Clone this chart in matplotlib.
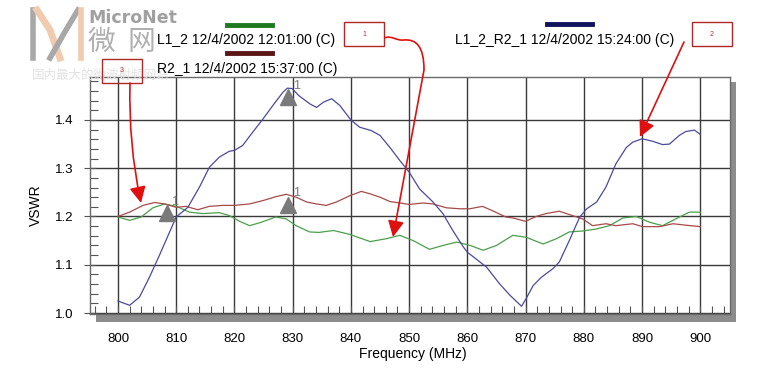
import matplotlib
matplotlib.use("Agg")
import matplotlib.pyplot as plt
from matplotlib.patches import Rectangle, FancyArrowPatch, PathPatch
from matplotlib.path import Path
from matplotlib.lines import Line2D
from matplotlib.ticker import MultipleLocator

plt.rcParams["font.family"] = ["Liberation Sans", "DejaVu Sans"]

# ---- data ----
blue_freq = [800, 802, 803.7, 805.4, 807.1, 810, 812, 814, 815.7, 817.4, 819.1, 820, 821.4,
             823.1, 824.9, 826.6, 828.3, 829.1, 829.9, 831.1, 833, 834.1, 835.3, 836.7, 838.1,
             840, 841.5, 843.5, 845, 846.7, 848.4, 850, 851.8, 854.1, 855.8, 857.5, 859.3, 860,
             861.5, 863.3, 865.5, 867.3, 869.3, 870.1, 871.3, 872.7, 874.7, 875.8, 877.5, 879.3,
             880.5, 882.2, 883.8, 885.5, 887.3, 888.4, 890, 891.8, 893.5, 894.7, 896.4, 897.5,
             899, 900]
blue_vswr = [1.025, 1.016, 1.033, 1.074, 1.119, 1.199, 1.219, 1.261, 1.302, 1.323, 1.335, 1.337,
             1.347, 1.374, 1.402, 1.430, 1.457, 1.466, 1.465, 1.450, 1.433, 1.426, 1.437, 1.444,
             1.430, 1.400, 1.385, 1.378, 1.368, 1.343, 1.316, 1.292, 1.257, 1.230, 1.206, 1.171,
             1.137, 1.126, 1.112, 1.095, 1.061, 1.037, 1.014, 1.030, 1.057, 1.074, 1.092, 1.106,
             1.150, 1.199, 1.216, 1.230, 1.261, 1.309, 1.343, 1.354, 1.361, 1.356, 1.349, 1.350,
             1.368, 1.376, 1.379, 1.370]

red_freq = [800, 802, 804.3, 806.3, 808, 810, 811.7, 813.7, 815.7, 818, 820, 822.6, 824.9, 827.1,
            828.9, 830.6, 832.4, 834.1, 835.8, 837.5, 839.8, 841.8, 843.3, 845, 846.7, 848.4,
            850, 852.4, 854.1, 856.4, 858.7, 860.4, 862.6, 864.3, 866.6, 867.8, 870, 871.8,
            873.5, 875.8, 877.5, 879.8, 881.5, 883.8, 885.5, 888.4, 890.1, 893, 895.3, 897.5, 900]
red_vswr = [1.200, 1.209, 1.223, 1.229, 1.226, 1.219, 1.221, 1.214, 1.221, 1.223, 1.223, 1.226,
            1.233, 1.241, 1.246, 1.240, 1.230, 1.226, 1.223, 1.230, 1.243, 1.252, 1.247, 1.240,
            1.231, 1.228, 1.225, 1.228, 1.226, 1.218, 1.216, 1.216, 1.221, 1.212, 1.199, 1.197,
            1.190, 1.200, 1.206, 1.211, 1.204, 1.195, 1.181, 1.185, 1.181, 1.185, 1.179, 1.179,
            1.185, 1.182, 1.179]

green_freq = [800, 802, 804, 806, 808, 810, 812.3, 814.6, 817.4, 819.1, 820.9, 822.6, 824.6,
              827.1, 828.9, 830.6, 832.9, 834.5, 837, 839.8, 843.3, 846.1, 848.4, 850.7, 853.5,
              855.8, 858.2, 860.5, 862.7, 865, 867.8, 870.1, 873, 875.3, 877.5, 879.8, 882.1,
              884.4, 886.7, 889, 891.3, 893.5, 895.8, 898.1, 900]
green_vswr = [1.199, 1.192, 1.199, 1.218, 1.226, 1.221, 1.209, 1.206, 1.208, 1.202, 1.190, 1.181,
              1.188, 1.199, 1.195, 1.181, 1.168, 1.167, 1.171, 1.163, 1.148, 1.154, 1.161, 1.150,
              1.132, 1.140, 1.147, 1.140, 1.130, 1.140, 1.161, 1.157, 1.143, 1.154, 1.168, 1.170,
              1.174, 1.181, 1.197, 1.200, 1.188, 1.181, 1.195, 1.209, 1.209]

marker_freq = [808.4, 829.2, 829.2]
marker_vswr = [1.207, 1.447, 1.224]

legend_labels = ["L1_2 12/4/2002 12:01:00 (C)",
                 "R2_1 12/4/2002 15:37:00 (C)",
                 "L1_2_R2_1 12/4/2002 15:24:00 (C)"]

W, H = 778, 388


def fp(x, y):
    # pixel position (from top-left) -> figure fraction
    return (x / W, 1 - y / H)


fig = plt.figure(figsize=(7.78, 3.88), dpi=100)

# drop shadow behind the plot frame
fig.add_artist(Rectangle(fp(96, 322), 640 / W, 240 / H, transform=fig.transFigure,
                         facecolor="#8c8c8c", edgecolor="none", zorder=0))

ax = fig.add_axes([90 / W, 1 - 314 / H, 640 / W, 237 / H])
ax.set_facecolor("white")
ax.set_zorder(1)

ax.plot(green_freq, green_vswr, color="#4aa04a", lw=0.9)
ax.plot(red_freq, red_vswr, color="#a84a4a", lw=0.9)
ax.plot(blue_freq, blue_vswr, color="#4a4a9e", lw=0.9)

ax.plot(marker_freq, marker_vswr, linestyle="none", marker="^", ms=11,
        color="#7a7a7a", zorder=5)
for fx, fy in zip(marker_freq, marker_vswr):
    ax.text(fx + 1.4, fy + 0.024, "1", color="#7a7a7a", fontsize=9, ha="center",
            va="center", zorder=6)

ax.set_xlim(795.2, 905.1)
ax.set_ylim(0.998, 1.489)
ax.set_xticks(range(800, 901, 10))
ax.set_yticks([1.0, 1.1, 1.2, 1.3, 1.4])
ax.set_yticklabels(["1.0", "1.1", "1.2", "1.3", "1.4"])
ax.xaxis.set_minor_locator(MultipleLocator(2))
ax.yaxis.set_minor_locator(MultipleLocator(0.02))
ax.grid(True, which="major", color="#3a3a3a", lw=1.0)
ax.set_axisbelow(True)
ax.tick_params(axis="x", which="both", direction="in", length=6, width=0.8,
               color="#555555", labelsize=9.5, pad=14, top=False)
ax.tick_params(axis="y", which="minor", direction="in", length=6, width=0.8, color="#555555")
ax.tick_params(axis="y", which="major", direction="inout", length=8, width=0.8,
               color="#555555", labelsize=9.5, pad=8, right=False)
for s in ax.spines.values():
    s.set_color("#6a6a6a")
    s.set_linewidth(1.0)

fig.text(*fp(36, 205), "VSWR", rotation=90, fontsize=10, ha="center", va="center")
fig.text(*fp(413, 354), "Frequency (MHz)", fontsize=10, ha="center", va="center")

# legend drawn like the instrument printout: colour bar above each label
legend_bars = [((227, 272, 25), "#1e7a1e"), ((227, 272, 53), "#5a1616"), ((547, 592, 24), "#12125e")]
legend_pos = [(157, 40), (157, 69), (455, 40)]
for ((x0, x1, yb), c), (lx, ly), lab in zip(legend_bars, legend_pos, legend_labels):
    fig.add_artist(Line2D([x0 / W, x1 / W], [1 - yb / H, 1 - yb / H], color=c, lw=3.5,
                          transform=fig.transFigure))
    fig.text(*fp(lx, ly), lab, fontsize=10, ha="left", va="center")

# watermark
fig.add_artist(Line2D([33 / W, 33 / W], [1 - 10 / H, 1 - 58 / H], color="#a8a8a8", lw=4,
                      transform=fig.transFigure))
fig.add_artist(Line2D([37 / W, 50 / W, 60 / W], [1 - 10 / H, 1 - 30 / H, 1 - 58 / H],
                      color="#f0cbb0", lw=5, transform=fig.transFigure))
fig.add_artist(Line2D([50 / W, 66 / W, 78 / W], [1 - 58 / H, 1 - 30 / H, 1 - 10 / H],
                      color="#a8a8a8", lw=4, transform=fig.transFigure))
fig.add_artist(Line2D([81 / W, 81 / W], [1 - 10 / H, 1 - 58 / H], color="#f0cbb0", lw=4,
                      transform=fig.transFigure))
fig.text(*fp(88, 18), "MicroNet", fontsize=12.5, fontweight="bold", color="#a0a0a0",
         ha="left", va="center", family=["DejaVu Sans"])
cjk = ["Noto Sans CJK SC", "DejaVu Sans"]
fig.text(*fp(88, 42), "微", fontsize=20, color="#b0b0b0", ha="left", va="center", family=cjk)
fig.text(*fp(128, 42), "网", fontsize=20, color="#b0b0b0", ha="left", va="center", family=cjk)
fig.text(*fp(32, 75), "国内最大的微波射频网站", fontsize=9, color="#e2e2e2", ha="left",
         va="center", family=cjk, zorder=1)

# red callout boxes with arrows
box_color = "#b02828"
arrow_color = "#e01010"
boxes = [(344, 22, "1"), (692, 22, "2"), (102, 59, "3")]
for bx, by, t in boxes:
    fig.add_artist(Rectangle(fp(bx, by + 24), 40 / W, 24 / H, transform=fig.transFigure,
                             facecolor="none", edgecolor=box_color, lw=1.0, zorder=8))
    fig.text(*fp(bx + 20, by + 12), t, fontsize=5, color="#c03030", ha="center",
             va="center", zorder=9)

verts = [fp(384, 38), fp(392, 35), fp(396, 41), fp(404, 40),
         fp(416, 39), fp(424, 46), fp(424, 70)]
codes = [Path.MOVETO, Path.CURVE4, Path.CURVE4, Path.CURVE4,
         Path.CURVE4, Path.CURVE4, Path.CURVE4]
fig.add_artist(PathPatch(Path(verts, codes), transform=fig.transFigure, facecolor="none",
                         edgecolor=arrow_color, lw=1.2, zorder=8))
arrows = [((424, 70), (393, 237), 0.0), ((684, 42), (640, 137), 0.0), ((130, 83), (141, 203), 0.06)]
for a, b, rad in arrows:
    fig.add_artist(FancyArrowPatch(fp(*a), fp(*b), transform=fig.transFigure,
                                   arrowstyle="-|>,head_length=0.7,head_width=0.35",
                                   connectionstyle=f"arc3,rad={rad}", mutation_scale=14,
                                   color=arrow_color, lw=1.2, shrinkA=0, shrinkB=0, zorder=8))

fig.savefig("out.png", dpi=100, facecolor="white")
